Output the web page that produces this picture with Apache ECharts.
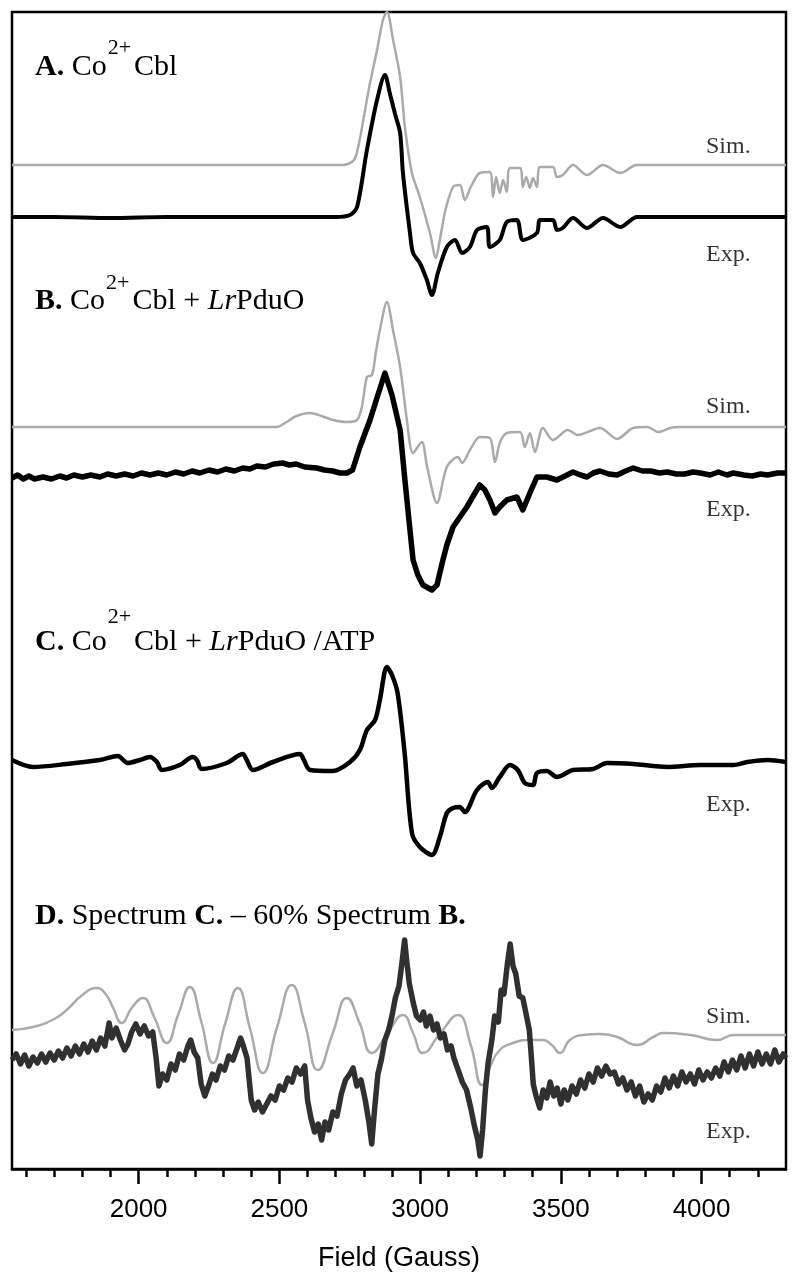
<!DOCTYPE html>
<html>
<head>
<meta charset="utf-8">
<script src="https://cdn.jsdelivr.net/npm/echarts@6/dist/echarts.min.js"></script>
<style>html,body{margin:0;padding:0;background:#fff}#c{width:800px;height:1283px}</style>
</head>
<body>
<div id="c"></div>
<script>
// Field axis (Gauss)
const fieldMin = 1550, fieldMax = 4300;
const majorTicks = [2000, 2500, 3000, 3500, 4000];
const minorTicks = [1600,1700,1800,1900,2100,2200,2300,2400,2600,2700,2800,2900,3100,3200,3300,3400,3600,3700,3800,3900,4100,4200];

// Vertical offsets (baseline of each trace, arbitrary units)
const offSimA = 1004, offExpA = 952, offSimB = 742, offExpB = 693, offExpC = 406, offSimD = 134, offExpD = 109;

// Spectra: [field (G), intensity relative to the trace baseline]
const simA = [[1550,0],[2726,0],[2765,5],[2783,22],[2800,48],[2822,82],[2847,115],[2868,145],[2882,153],[2904,125],[2929,88],[2946,38],[2971,-8],[2999,-32],[3035,-68],[3056,-93],[3070,-75],[3090,-45],[3117,-22],[3141,-20],[3159,-35],[3180,-22],[3212,-8],[3248,-7],[3259,-32],[3270,-12],[3283,-28],[3295,-15],[3308,-27],[3319,-3],[3355,-3],[3365,-22],[3377,-12],[3390,-23],[3401,-13],[3415,-22],[3426,-2],[3472,-2],[3486,-12],[3507,-10],[3543,0],[3593,-10],[3650,0],[3711,-8],[3757,-1],[3771,0],[4300,0]];
const expA = [[1550,0],[1700,0],[1900,-1],[2100,0],[2300,0],[2500,0],[2700,0],[2751,2],[2776,10],[2811,67],[2847,117],[2875,142],[2893,123],[2911,103],[2929,84],[2939,44],[2964,-16],[2975,-36],[2999,-46],[3024,-63],[3042,-78],[3063,-56],[3095,-30],[3124,-23],[3149,-36],[3177,-30],[3202,-13],[3237,-10],[3248,-30],[3283,-23],[3308,-5],[3344,-3],[3365,-23],[3415,-16],[3426,-3],[3472,-3],[3486,-13],[3507,-11],[3543,-1],[3593,-11],[3650,-1],[3711,-10],[3771,0],[4300,0]];
const simB = [[1550,0],[2491,0],[2520,4],[2560,11],[2609,14],[2650,11],[2690,7],[2740,5],[2776,7],[2793,20],[2811,50],[2829,52],[2843,75],[2857,97],[2882,125],[2905,95],[2929,60],[2953,7],[2975,-26],[3006,-15],[3025,-40],[3060,-76],[3095,-40],[3134,-30],[3149,-36],[3177,-23],[3212,-10],[3248,-11],[3266,-35],[3283,-16],[3308,-6],[3355,-5],[3372,-20],[3390,-6],[3408,-25],[3436,-1],[3472,-13],[3525,-3],[3561,-8],[3639,-1],[3700,-12],[3757,-1],[3807,0],[3846,-5],[3889,-1],[3920,0],[4300,0]];
const expB = [[1550,-2],[1570,1],[1590,-3],[1610,0],[1630,-3],[1660,-1],[1690,-3],[1720,0],[1744,-2],[1770,1],[1800,-1],[1830,1],[1862,-1],[1890,2],[1920,0],[1950,2],[1980,0],[2010,3],[2040,1],[2070,3],[2100,1],[2130,4],[2160,2],[2190,5],[2217,3],[2250,6],[2280,4],[2310,7],[2340,5],[2370,8],[2395,7],[2420,10],[2450,9],[2480,12],[2512,13],[2535,11],[2560,12],[2590,9],[2633,8],[2660,6],[2690,5],[2715,3],[2740,3],[2760,6],[2786,29],[2822,56],[2850,81],[2875,103],[2900,81],[2929,46],[2946,-4],[2964,-54],[2975,-84],[2992,-99],[3010,-109],[3042,-114],[3060,-109],[3070,-97],[3081,-84],[3095,-69],[3117,-51],[3166,-31],[3195,-17],[3212,-9],[3230,-14],[3248,-24],[3266,-37],[3283,-31],[3308,-24],[3344,-21],[3365,-34],[3390,-17],[3415,-1],[3450,-1],[3486,-4],[3515,0],[3543,4],[3570,1],[3593,-1],[3615,3],[3639,5],[3670,2],[3700,1],[3730,5],[3757,8],[3790,5],[3820,5],[3850,3],[3878,4],[3910,2],[3940,2],[3970,4],[3995,3],[4030,1],[4060,4],[4090,1],[4113,3],[4150,1],[4180,0],[4210,2],[4234,1],[4270,3],[4300,3]];
const expC = [[1550,3],[1624,-4],[1744,-1],[1862,3],[1926,7],[1961,0],[2004,3],[2040,6],[2065,1],[2082,-7],[2146,-2],[2192,6],[2207,3],[2224,-6],[2313,0],[2370,9],[2384,3],[2406,-7],[2477,1],[2573,9],[2587,3],[2609,-7],[2690,-8],[2751,1],[2786,13],[2811,33],[2840,43],[2857,63],[2882,96],[2900,88],[2920,70],[2945,10],[2971,-70],[2999,-84],[3042,-92],[3070,-74],[3095,-50],[3117,-45],[3141,-44],[3159,-49],[3202,-27],[3241,-19],[3255,-25],[3283,-14],[3319,-2],[3347,-7],[3372,-20],[3401,-22],[3415,-10],[3450,-8],[3486,-14],[3543,-7],[3614,-6],[3664,0],[3757,-1],[3878,-4],[3995,-2],[4113,-2],[4163,1],[4234,3],[4300,1]];
const simD = [[1550,5],[1624,8],[1700,16],[1744,25],[1800,40],[1851,47],[1885,40],[1908,28],[1940,12],[1975,27],[2015,37],[2055,18],[2100,-8],[2140,20],[2182,48],[2222,14],[2264,-28],[2308,12],[2352,47],[2396,6],[2441,-38],[2492,8],[2544,50],[2590,12],[2637,-35],[2690,2],[2740,37],[2785,12],[2829,-18],[2885,2],[2939,20],[2975,2],[3010,-18],[3072,2],[3134,20],[3180,-10],[3220,-50],[3248,-32],[3283,-15],[3330,-8],[3379,-5],[3436,-5],[3468,-10],[3497,-18],[3532,-5],[3579,0],[3639,1],[3700,-2],[3771,-10],[3828,-2],[3864,2],[3960,0],[4056,-5],[4113,0],[4300,0]];
const expD = [[1550,0],[1565,6],[1580,-4],[1595,5],[1610,-6],[1625,3],[1640,-3],[1655,6],[1670,-2],[1685,7],[1700,0],[1715,9],[1730,2],[1745,12],[1760,4],[1775,14],[1790,6],[1805,16],[1820,8],[1835,19],[1850,10],[1865,22],[1880,14],[1895,37],[1905,22],[1920,32],[1935,20],[1950,10],[1962,16],[1975,28],[1990,36],[2005,26],[2020,34],[2035,24],[2050,28],[2062,2],[2072,-26],[2085,-14],[2100,-20],[2115,-4],[2130,-10],[2145,6],[2160,0],[2175,14],[2185,20],[2197,8],[2210,2],[2222,-24],[2235,-36],[2248,-26],[2262,-14],[2275,-20],[2290,-6],[2305,-10],[2320,4],[2335,0],[2350,12],[2362,22],[2372,14],[2385,2],[2400,-40],[2412,-50],[2425,-42],[2440,-52],[2455,-44],[2470,-36],[2485,-40],[2500,-26],[2515,-30],[2530,-18],[2545,-22],[2560,-8],[2575,-14],[2590,-6],[2600,-40],[2612,-58],[2625,-72],[2638,-64],[2650,-80],[2662,-62],[2675,-70],[2690,-52],[2705,-56],[2720,-34],[2735,-20],[2750,-14],[2762,-8],[2775,-26],[2790,-20],[2805,-40],[2818,-62],[2828,-84],[2838,-50],[2850,-14],[2862,0],[2875,20],[2888,30],[2900,44],[2912,62],[2925,74],[2935,96],[2945,120],[2952,100],[2962,76],[2975,58],[2987,44],[3000,40],[3012,48],[3022,34],[3035,44],[3048,30],[3060,36],[3072,22],[3085,26],[3097,10],[3110,14],[3120,2],[3135,-10],[3150,-22],[3165,-30],[3180,-48],[3193,-66],[3205,-80],[3213,-96],[3222,-70],[3232,-30],[3242,-2],[3255,20],[3265,44],[3278,38],[3288,70],[3298,66],[3310,96],[3320,116],[3330,94],[3340,86],[3352,64],[3365,62],[3378,44],[3388,30],[3395,4],[3402,-24],[3412,-36],[3425,-48],[3437,-30],[3450,-38],[3462,-22],[3475,-36],[3487,-28],[3500,-44],[3512,-30],[3525,-40],[3540,-26],[3555,-34],[3570,-20],[3585,-28],[3600,-14],[3615,-22],[3630,-8],[3645,-16],[3660,-6],[3675,-14],[3690,-12],[3705,-24],[3720,-18],[3735,-30],[3750,-22],[3765,-36],[3780,-26],[3795,-42],[3810,-34],[3825,-40],[3840,-26],[3855,-32],[3870,-18],[3885,-28],[3900,-16],[3915,-26],[3930,-12],[3945,-22],[3960,-14],[3975,-24],[3990,-10],[4005,-20],[4020,-12],[4035,-18],[4050,-8],[4065,-16],[4080,-2],[4095,-12],[4110,0],[4125,-10],[4140,4],[4155,-8],[4170,6],[4185,-6],[4200,8],[4215,-4],[4230,6],[4245,-4],[4260,10],[4275,-2],[4290,6],[4300,2]];

// Trace labels
const traceLabels = [
  {text: 'Sim.', field: 4095, val: offSimA + 18},
  {text: 'Exp.', field: 4095, val: offExpA - 38},
  {text: 'Sim.', field: 4095, val: offSimB + 20},
  {text: 'Exp.', field: 4095, val: offExpB - 34},
  {text: 'Exp.', field: 4095, val: offExpC - 42},
  {text: 'Sim.', field: 4095, val: offSimD + 18},
  {text: 'Exp.', field: 4095, val: offExpD - 72}
];

const SERIF = '"Liberation Serif","Times New Roman",serif';
const SANS = '"Liberation Sans",Arial,sans-serif';

function shift(arr, off) { return arr.map(p => [p[0], p[1] + off]); }

const chart = echarts.init(document.getElementById('c'), null, {renderer: 'canvas'});

function richStyle(L) {
  return {
    b: {fontFamily: SERIF, fontSize: 30, fontWeight: 'bold', color: '#000', lineHeight: L},
    n: {fontFamily: SERIF, fontSize: 30, color: '#000', lineHeight: L},
    i: {fontFamily: SERIF, fontSize: 30, fontStyle: 'italic', color: '#000', lineHeight: L},
    s: {fontFamily: SERIF, fontSize: 22, color: '#000', lineHeight: 22, verticalAlign: 'top', padding: [0, 3, 0, 1]}
  };
}

const panelTitles = [
  {text: '{b|A.}{n| Co}{s|2+}{n|Cbl}', y: 67, L: 60},
  {text: '{b|B.}{n| Co}{s|2+}{n|Cbl + }{i|Lr}{n|PduO}', y: 301, L: 58},
  {text: '{b|C.}{n| Co}{s|2+}{n|Cbl + }{i|Lr}{n|PduO /ATP}', y: 642, L: 72},
  {text: '{b|D.}{n| Spectrum }{b|C.}{n| \u2013 60% Spectrum }{b|B.}', y: 916, L: 40}
];

const grid = {left: 12, right: 14, top: 12, bottom: 114};
const yMax = 1283 - grid.top - grid.bottom;

const graphics = panelTitles.map(t => ({
  type: 'text', x: 35, y: t.y, z: 10,
  style: {text: t.text, rich: richStyle(t.L), align: 'left', verticalAlign: 'middle'}
}));

const option = {
  animation: false,
  backgroundColor: '#fff',
  grid: Object.assign({show: true, borderColor: '#000', borderWidth: 2.5, backgroundColor: 'transparent'}, grid),
  xAxis: [
    {
      type: 'value', min: fieldMin, max: fieldMax, position: 'bottom',
      axisLine: {show: true, onZero: false, lineStyle: {color: '#000', width: 2.5}},
      axisTick: {show: true, length: 15, inside: false, customValues: majorTicks, lineStyle: {color: '#000', width: 2.5}},
      axisLabel: {show: true, customValues: majorTicks, formatter: v => String(v), margin: 28, color: '#000', fontFamily: SANS, fontSize: 26},
      splitLine: {show: false},
      name: 'Field (Gauss)', nameLocation: 'middle', nameGap: 76,
      nameTextStyle: {color: '#000', fontFamily: SANS, fontSize: 27}
    },
    {
      type: 'value', min: fieldMin, max: fieldMax, position: 'bottom', offset: 0,
      axisLine: {show: false, onZero: false},
      axisTick: {show: true, length: 8, inside: false, customValues: minorTicks, lineStyle: {color: '#000', width: 2.5}},
      axisLabel: {show: false},
      splitLine: {show: false}
    }
  ],
  yAxis: {type: 'value', min: 0, max: yMax, show: false},
  series: [
    {name: 'simA', type: 'line', data: shift(simA, offSimA), showSymbol: false, smooth: 0.3, lineStyle: {color: '#aaaaaa', width: 2.5}, itemStyle: {color: '#aaaaaa'}},
    {name: 'expA', type: 'line', data: shift(expA, offExpA), showSymbol: false, smooth: 0.3, lineStyle: {color: '#000', width: 4}, itemStyle: {color: '#000'}},
    {name: 'simB', type: 'line', data: shift(simB, offSimB), showSymbol: false, smooth: 0.3, lineStyle: {color: '#aaaaaa', width: 2.5}, itemStyle: {color: '#aaaaaa'}},
    {name: 'expB', type: 'line', data: shift(expB, offExpB), showSymbol: false, smooth: false, lineStyle: {color: '#000', width: 5.5, join: 'round'}, itemStyle: {color: '#000'}},
    {name: 'expC', type: 'line', data: shift(expC, offExpC), showSymbol: false, smooth: 0.3, lineStyle: {color: '#000', width: 4.5}, itemStyle: {color: '#000'}},
    {name: 'simD', type: 'line', data: shift(simD, offSimD), showSymbol: false, smooth: 0.5, lineStyle: {color: '#aaaaaa', width: 2.5}, itemStyle: {color: '#aaaaaa'}},
    {name: 'expD', type: 'line', data: shift(expD, offExpD), showSymbol: false, smooth: false, lineStyle: {color: '#303030', width: 5.5, join: 'round'}, itemStyle: {color: '#303030'}},
    {
      name: 'labels', type: 'scatter', symbolSize: 0,
      data: traceLabels.map(l => ({value: [l.field, l.val], name: l.text})),
      label: {show: true, position: 'inside', formatter: p => p.name, fontFamily: SERIF, fontSize: 24, color: '#000'},
      silent: true
    }
  ],
  graphic: graphics
};
chart.setOption(option);
</script>
</body>
</html>
